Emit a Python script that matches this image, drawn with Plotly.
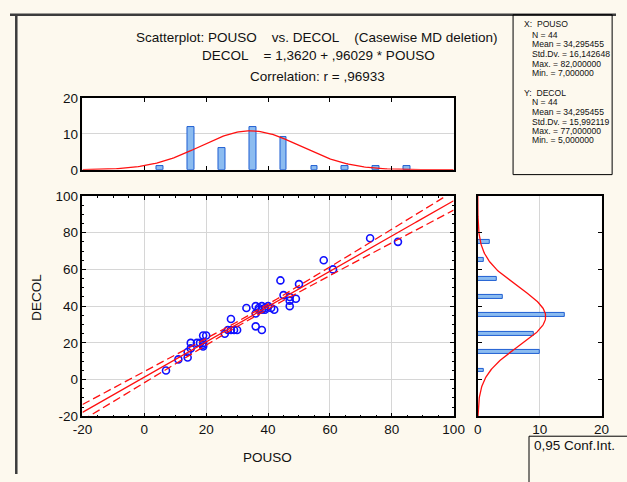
import numpy as np
import plotly.graph_objects as go

W, H = 627, 482

# ---- data ----
pouso = [7,
         11, 14, 14, 15, 15, 17, 18, 19, 19, 19, 20, 19,
         26, 27, 28, 28, 29, 30,
         33, 36, 36, 36, 37, 37, 38, 38, 38, 39, 39, 40,
         41, 42, 44, 45, 47, 47, 47, 49, 50,
         58, 61, 73, 82]
decol = [5,
         11, 12, 15, 17, 20, 20, 20, 20, 18, 24, 24, 19,
         25, 27, 33, 27, 27, 27,
         39, 40, 36, 29, 39, 38, 40, 38, 27, 39, 38, 40,
         39, 38, 54, 46, 43, 40, 45, 44, 52,
         65, 60, 77, 75]

bin_centers = [5, 15, 25, 35, 45, 55, 65, 75, 85]
pouso_counts = [1, 12, 6, 12, 9, 1, 1, 1, 1]
decol_bin_centers = [5, 15, 25, 35, 45, 55, 65, 75]
decol_counts = [1, 10, 9, 14, 4, 3, 1, 2]

n_obs = 44
intercept = 1.3620
slope = 0.96029
r_corr = 0.96933
mean_x, sd_x = 34.295455, 16.142648
mean_y, sd_y = 34.295455, 15.992119
bin_width = 10
t_crit = 2.0181

tick_vals = [-20, 0, 20, 40, 60, 80, 100]
tick_text = ["-20", "0", "20", "40", "60", "80", "100"]
hist_vals = [0, 10, 20]
hist_text = ["0", "10", "20"]

stats_x = ["X:  POUSO", "N = 44", "Mean = 34,295455", "Std.Dv. = 16,142648",
           "Max. = 82,000000", "Min. = 7,000000"]
stats_y = ["Y:  DECOL", "N = 44", "Mean = 34,295455", "Std.Dv. = 15,992119",
           "Max. = 77,000000", "Min. = 5,000000"]

# ---- derived curves ----
xs = np.linspace(-20, 100, 241)
fit = intercept + slope * xs
s_res = sd_y * np.sqrt((1 - r_corr ** 2) * (n_obs - 1) / (n_obs - 2))
sxx = (n_obs - 1) * sd_x ** 2
hw = t_crit * s_res * np.sqrt(1.0 / n_obs + (xs - mean_x) ** 2 / sxx)
norm_x = n_obs * bin_width / (sd_x * np.sqrt(2 * np.pi)) * np.exp(-0.5 * ((xs - mean_x) / sd_x) ** 2)
norm_y = n_obs * bin_width / (sd_y * np.sqrt(2 * np.pi)) * np.exp(-0.5 * ((xs - mean_y) / sd_y) ** 2)

FONT = "Liberation Sans, Arial, sans-serif"
BG = "#fdf9ee"
RED = "#ff1010"
BAR_FILL = "#8cbcf0"
BAR_LINE = "#1f5ed2"

def px(x):
    return x / W

def py(y):
    return 1 - y / H

fig = go.Figure()

# scatter points
fig.add_trace(go.Scatter(x=pouso, y=decol, mode="markers",
                         marker=dict(symbol="circle-open", size=7, color="#1010ff",
                                     line=dict(width=1.6, color="#1010ff")),
                         xaxis="x", yaxis="y", showlegend=False))
# regression line + confidence band
fig.add_trace(go.Scatter(x=xs, y=fit, mode="lines", line=dict(color=RED, width=1.3),
                         xaxis="x", yaxis="y", showlegend=False))
fig.add_trace(go.Scatter(x=xs, y=fit + hw, mode="lines",
                         line=dict(color=RED, width=1.3, dash="8px,4px"),
                         xaxis="x", yaxis="y", showlegend=False))
fig.add_trace(go.Scatter(x=xs, y=fit - hw, mode="lines",
                         line=dict(color=RED, width=1.3, dash="8px,4px"),
                         xaxis="x", yaxis="y", showlegend=False))

# top histogram (POUSO)
fig.add_trace(go.Bar(x=bin_centers, y=pouso_counts, width=2.2,
                     marker=dict(color=BAR_FILL, line=dict(color=BAR_LINE, width=1)),
                     xaxis="x2", yaxis="y2", showlegend=False))
fig.add_trace(go.Scatter(x=xs, y=norm_x, mode="lines", line=dict(color=RED, width=1.3),
                         xaxis="x2", yaxis="y2", showlegend=False))

# right histogram (DECOL)
fig.add_trace(go.Bar(y=decol_bin_centers, x=decol_counts, width=2.1, orientation="h",
                     marker=dict(color=BAR_FILL, line=dict(color=BAR_LINE, width=1)),
                     xaxis="x3", yaxis="y3", showlegend=False))
fig.add_trace(go.Scatter(x=norm_y, y=xs, mode="lines", line=dict(color=RED, width=1.3),
                         xaxis="x3", yaxis="y3", showlegend=False))

tickfont = dict(family=FONT, size=13.5, color="#111")
common = dict(showline=True, linecolor="black", linewidth=1.5, mirror="allticks",
              zeroline=False, tickfont=tickfont, tickcolor="black")

sc_x = [px(75), px(459)]
sc_y = [py(422.5), py(195)]

fig.update_layout(
    width=W, height=H, autosize=False,
    margin=dict(l=0, r=0, t=0, b=0),
    paper_bgcolor=BG, plot_bgcolor="white",
    bargap=0,
    xaxis=dict(domain=sc_x, range=[-20, 100], tickvals=tick_vals, ticktext=tick_text,
               showgrid=True, gridcolor="#d6d6d6", gridwidth=1, ticks="inside", ticklen=4,
               minor=dict(ticks="inside", ticklen=2, dtick=5, tickcolor="black", showgrid=False),
               anchor="y", **common),
    yaxis=dict(domain=sc_y, range=[-20, 100], tickvals=tick_vals, ticktext=tick_text,
               showgrid=True, gridcolor="#d6d6d6", gridwidth=1, ticks="inside", ticklen=4,
               minor=dict(ticks="inside", ticklen=2, dtick=5, tickcolor="black", showgrid=False),
               anchor="x", **common),
    xaxis2=dict(domain=sc_x, range=[-20, 100], tickvals=tick_vals, showticklabels=False,
                showgrid=False, ticks="inside", ticklen=4, anchor="y2", **common),
    yaxis2=dict(domain=[py(168), py(94)], range=[0, 20], tickvals=hist_vals, ticktext=hist_text,
                showgrid=True, gridcolor="#d6d6d6", ticks="", anchor="x2", **common),
    xaxis3=dict(domain=[px(484), px(612)], range=[0, 20], tickvals=hist_vals, ticktext=hist_text,
                showgrid=True, gridcolor="#d6d6d6", ticks="", anchor="y3", **common),
    yaxis3=dict(domain=sc_y, range=[-20, 100], tickvals=tick_vals, showticklabels=False,
                showgrid=False, ticks="inside", ticklen=4, anchor="x3", **common),
)

# frame lines and boxes
shapes = [
    dict(type="line", xref="paper", yref="paper", x0=0, x1=1, y0=py(8), y1=py(8),
         line=dict(color="#3c3c3c", width=2.5)),
    dict(type="line", xref="paper", yref="paper", x0=px(6.5), x1=px(6.5), y0=py(8), y1=0,
         line=dict(color="#3c3c3c", width=2.5)),
    dict(type="rect", xref="paper", yref="paper", x0=px(520.5), x1=px(623), y0=py(173), y1=py(8),
         line=dict(color="black", width=1)),
    dict(type="rect", xref="paper", yref="paper", x0=px(537), x1=px(660), y0=py(520), y1=py(443),
         line=dict(color="black", width=1)),
]
fig.update_layout(shapes=shapes)

ann = []
title_font = dict(family=FONT, size=13.5, color="#111")
nb = "\u00a0"
ann.append(dict(text="Scatterplot: POUSO" + nb * 4 + "vs. DECOL" + nb * 4 + "(Casewise MD deletion)",
                x=px(318), y=py(31), xref="paper", yref="paper", showarrow=False,
                xanchor="center", yanchor="middle", font=title_font))
ann.append(dict(text="DECOL" + nb * 4 + "= 1,3620 + ,96029 * POUSO",
                x=px(319), y=py(50), xref="paper", yref="paper", showarrow=False,
                xanchor="center", yanchor="middle", font=title_font))
ann.append(dict(text="Correlation: r = ,96933",
                x=px(318), y=py(72), xref="paper", yref="paper", showarrow=False,
                xanchor="center", yanchor="middle", font=title_font))

small = dict(family=FONT, size=8.6, color="#111")
ys_x = [18, 28.5, 38.5, 48.5, 58.5, 68.5]
ys_y = [88.5, 98.5, 108.5, 118.5, 128, 137.5]
for i, (t, yy) in enumerate(zip(stats_x, ys_x)):
    ann.append(dict(text=t, x=px(531 if i == 0 else 539), y=py(yy), xref="paper", yref="paper",
                    showarrow=False, xanchor="left", yanchor="middle", font=small, borderpad=0))
for i, (t, yy) in enumerate(zip(stats_y, ys_y)):
    ann.append(dict(text=t, x=px(531 if i == 0 else 539), y=py(yy), xref="paper", yref="paper",
                    showarrow=False, xanchor="left", yanchor="middle", font=small, borderpad=0))

ann.append(dict(text="POUSO", x=px(266), y=py(465), xref="paper", yref="paper", showarrow=False,
                xanchor="center", yanchor="middle", font=title_font))
ann.append(dict(text="DECOL", x=px(28), y=py(300), xref="paper", yref="paper", showarrow=False,
                xanchor="center", yanchor="middle", textangle=-90, font=title_font))
ann.append(dict(text="0,95 Conf.Int.", x=px(540), y=py(453), xref="paper", yref="paper",
                showarrow=False, xanchor="left", yanchor="middle", font=title_font))
fig.update_layout(annotations=ann)

fig.write_html("out.html")
